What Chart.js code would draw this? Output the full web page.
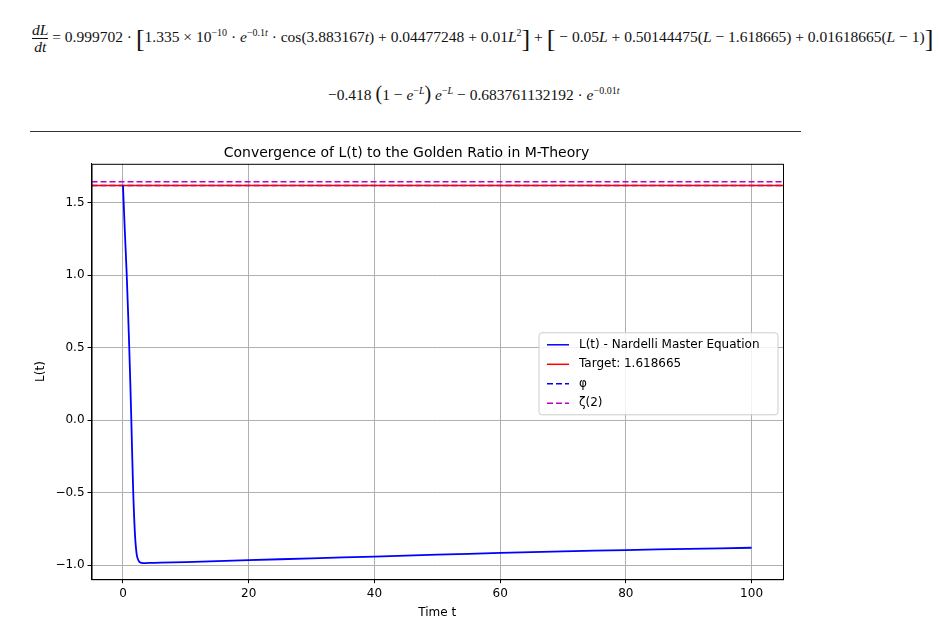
<!DOCTYPE html>
<html><head><meta charset="utf-8">
<script src="https://cdn.jsdelivr.net/npm/chart.js@4"></script>
<style>
body{margin:0;background:#fff;width:939px;height:626px;overflow:hidden;position:relative;font-family:"Liberation Serif","DejaVu Serif",serif}
.eq{position:absolute;font-size:15.5px;white-space:nowrap;color:#111}
.frac{display:inline-block;vertical-align:middle;text-align:center;font-style:italic}
.frac span{display:block;line-height:16px}
.frac .n{border-bottom:1px solid #111}
i{font-style:italic}
sup{font-size:10px}
.big{font-size:26px;vertical-align:middle;font-weight:100}
#hr{position:absolute;left:30px;top:131px;width:771px;height:1px;background:#333}
#wrap{position:absolute;left:0;top:138px;width:939px;height:488px}
</style></head><body>
<div class="eq" style="left:32px;top:22px"><span class="frac"><span class="n">dL</span><span>dt</span></span> = 0.999702 · <span class="big">[</span>1.335 × 10<sup>−10</sup> · <i>e</i><sup>−0.1<i>t</i></sup> · cos(3.883167<i>t</i>) + 0.04477248 + 0.01<i>L</i><sup>2</sup><span class="big">]</span> + <span class="big">[</span> − 0.05<i>L</i> + 0.50144475(<i>L</i> − 1.618665) + 0.01618665(<i>L</i> − 1)<span class="big">]</span></div>
<div class="eq" style="left:328px;top:82px">−0.418 <span style="font-size:20px">(</span>1 − <i>e</i><sup>−<i>L</i></sup><span style="font-size:20px">)</span> <i>e</i><sup>−<i>L</i></sup> − 0.683761132192 · <i>e</i><sup>−0.01<i>t</i></sup></div>
<div id="hr"></div>
<div id="wrap"><canvas id="c"></canvas></div>
<script>
const times = [0,0.3,0.6,1.0,1.3,1.6,1.9,2.2,2.5,2.8,3.2,4,6,10,20,30,40,50,60,70,80,90,100];
const Lvals = [1.618,1.30,1.00,0.50,0.05,-0.45,-0.78,-0.93,-0.97,-0.982,-0.985,-0.984,-0.982,-0.978,-0.965,-0.952,-0.94,-0.927,-0.915,-0.904,-0.895,-0.887,-0.879];
const target = 1.618665, phi = 1.6180339887, zeta2 = 1.644934;
const xMin=-5, xMax=105;
const xTicks=[0,20,40,60,80,100];
const yTicks=[-1.0,-0.5,0.0,0.5,1.0,1.5];
const hline=(v)=>[{x:xMin,y:v},{x:xMax,y:v}];
const ds=[
 {label:'L(t) - Nardelli Master Equation',data:times.map((t,i)=>({x:t,y:Lvals[i]})),borderColor:'#0000ff',borderWidth:1.8,pointRadius:0,tension:0.3},
 {label:'Target: 1.618665',data:hline(target),borderColor:'#ff0000',borderWidth:1.5,pointRadius:0},
 {label:'φ',data:hline(phi),borderColor:'#0000ff',borderWidth:1.5,borderDash:[6,3],pointRadius:0},
 {label:'ζ(2)',data:hline(zeta2),borderColor:'#bf00bf',borderWidth:1.5,borderDash:[6,3],pointRadius:0}
];
const legendPlugin={id:'lg',afterDraw(c){
 const ctx=c.ctx;const a=c.chartArea;
 ctx.save();ctx.strokeStyle='#000';ctx.lineWidth=1;ctx.strokeRect(a.left+0.5,a.top+0.5,a.right-a.left,a.bottom-a.top);
 const x0=a.right-244, y0=a.top+169;
 const w=239,h=82;
 ctx.fillStyle='rgba(255,255,255,0.85)';ctx.strokeStyle='#ccc';
 ctx.beginPath();ctx.roundRect(x0,y0,w,h,3);ctx.fill();ctx.stroke();
 ctx.font='12px "DejaVu Sans"';ctx.textBaseline='middle';
 ds.forEach((d,i)=>{const y=y0+12+i*19.5;ctx.strokeStyle=d.borderColor;ctx.lineWidth=1.5;ctx.setLineDash(d.borderDash||[]);
  ctx.beginPath();ctx.moveTo(x0+8,y);ctx.lineTo(x0+30,y);ctx.stroke();ctx.setLineDash([]);ctx.fillStyle='#000';ctx.fillText(d.label,x0+40,y);});
 ctx.restore();}};
new Chart(document.getElementById('c'),{type:'line',data:{datasets:ds},plugins:[legendPlugin],
options:{responsive:true,maintainAspectRatio:false,animation:false,
 layout:{padding:{left:30,right:156,top:0,bottom:2}},
 plugins:{legend:{display:false},tooltip:{enabled:false},
  title:{display:true,text:'Convergence of L(t) to the Golden Ratio in M-Theory',color:'#000',font:{family:'DejaVu Sans',size:14,weight:'normal'},padding:{top:7,bottom:2}}},
 scales:{
  x:{type:'linear',min:xMin,max:xMax,afterBuildTicks:a=>{a.ticks=xTicks.map(v=>({value:v}))},
   grid:{color:'#b0b0b0',drawTicks:true,tickLength:4,tickColor:'#000'},border:{color:'#000'},
   ticks:{color:'#000',font:{family:'DejaVu Sans',size:12}},
   title:{display:true,text:'Time t',color:'#000',font:{family:'DejaVu Sans',size:12},padding:{top:2}}},
  y:{min:-1.096,max:1.768,afterBuildTicks:a=>{a.ticks=yTicks.map(v=>({value:v}))},
   grid:{color:'#b0b0b0',tickLength:4,tickColor:'#000'},border:{color:'#000'},
   ticks:{color:'#000',font:{family:'DejaVu Sans',size:12},callback:v=>(v<0?'−':'')+Math.abs(v).toFixed(1)},
   title:{display:true,text:'L(t)',color:'#000',font:{family:'DejaVu Sans',size:12}}}
 }}});
</script></body></html>
